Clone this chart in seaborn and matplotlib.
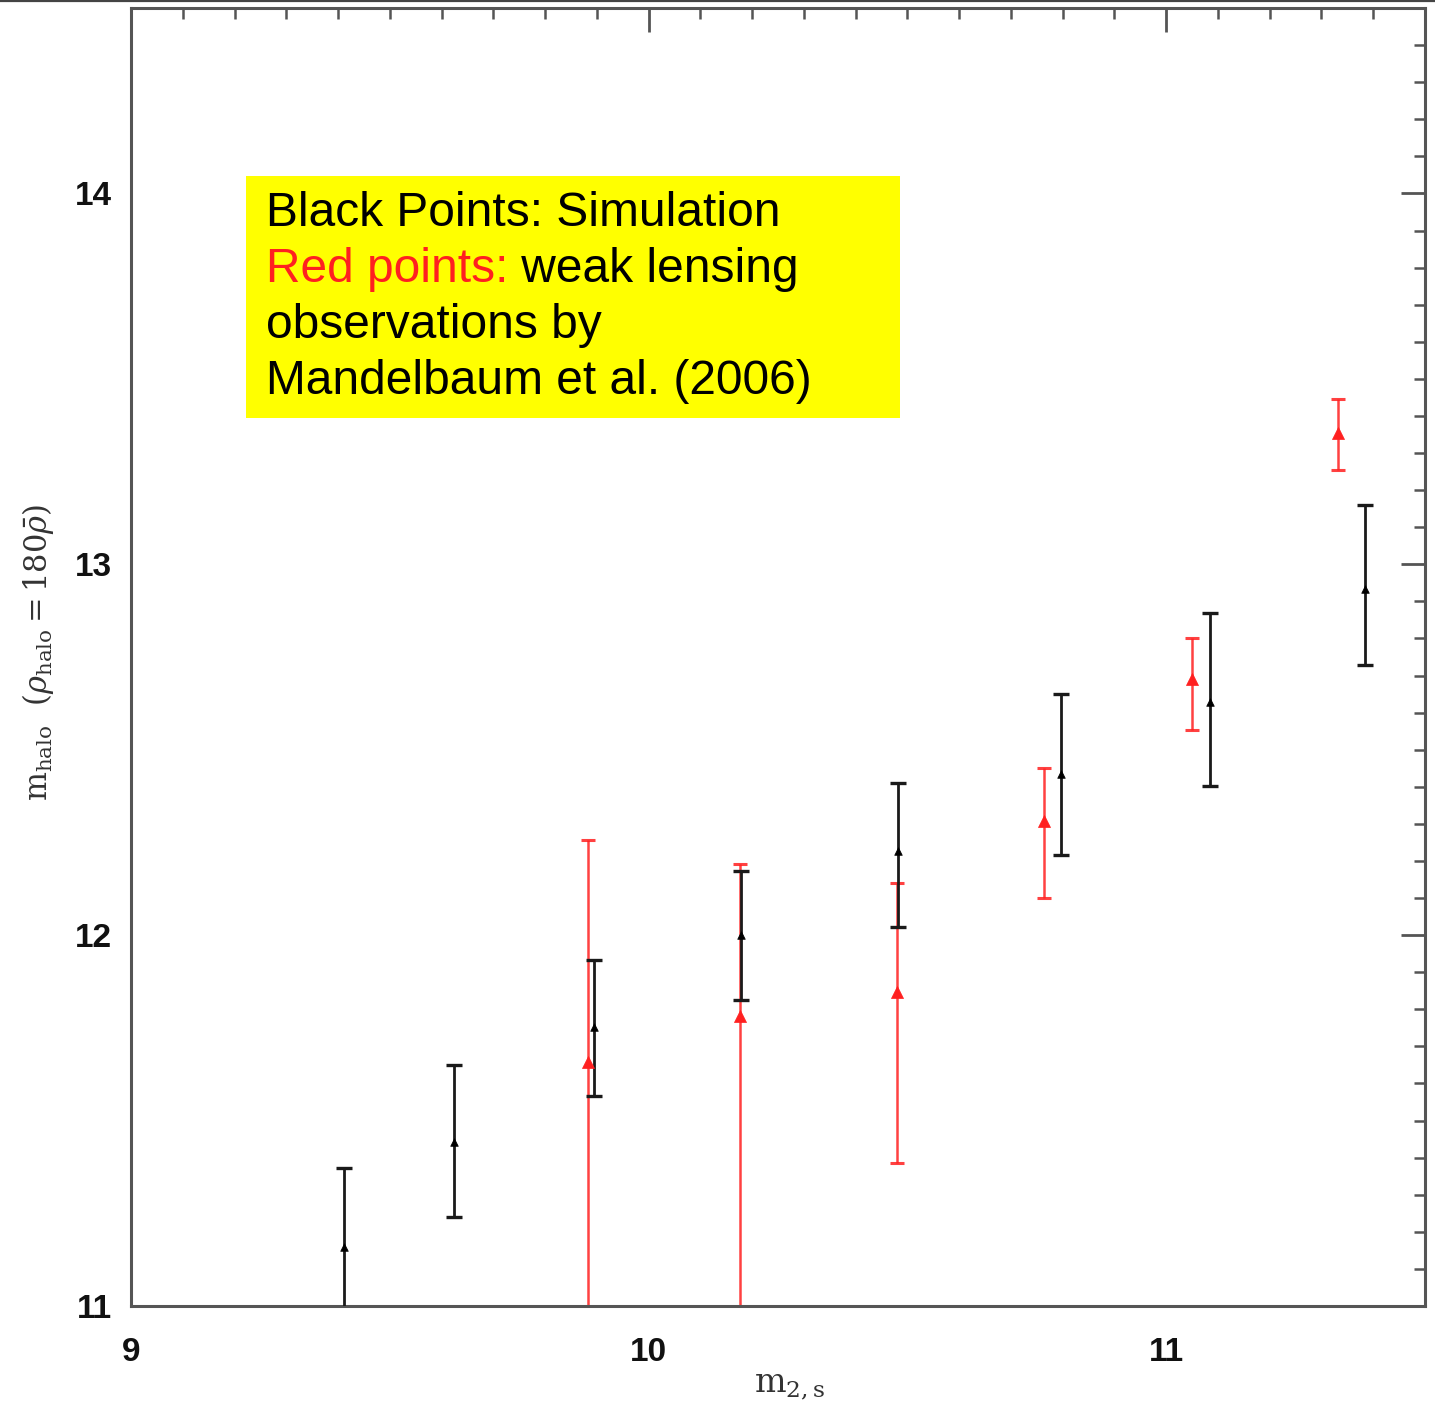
import numpy as np
import pandas as pd
import matplotlib
matplotlib.use("Agg")
import matplotlib.pyplot as plt
import seaborn as sns
from matplotlib.ticker import MultipleLocator
from matplotlib.patches import Rectangle
from matplotlib.lines import Line2D

# --- data ---
sim_x = [9.411, 9.624, 9.894, 10.178, 10.481, 10.797, 11.085, 11.384]
sim_y = [11.159, 11.443, 11.751, 12.000, 12.226, 12.434, 12.628, 12.934]
sim_lo = [10.95, 11.240, 11.567, 11.824, 12.021, 12.215, 12.402, 12.728]
sim_hi = [11.373, 11.651, 11.934, 12.172, 12.410, 12.650, 12.869, 13.160]

obs_x = [9.882, 10.176, 10.479, 10.764, 11.050, 11.332]
obs_y = [11.659, 11.783, 11.848, 12.307, 12.690, 13.355]
obs_lo = [10.80, 10.80, 11.386, 12.099, 12.553, 13.255]
obs_hi = [12.256, 12.191, 12.140, 12.450, 12.801, 13.447]

sim = pd.DataFrame({"x": sim_x, "y": sim_y, "lo": sim_lo, "hi": sim_hi})
obs = pd.DataFrame({"x": obs_x, "y": obs_y, "lo": obs_lo, "hi": obs_hi})

sns.set_style("white")
plt.rcParams['font.family'] = ['Liberation Sans', 'DejaVu Sans']
plt.rcParams['mathtext.fontset'] = 'dejavuserif'

W, H = 1435, 1412
fig = plt.figure(figsize=(W / 100, H / 100), dpi=100)
ax = fig.add_axes([131 / W, 1 - 1306 / H, (1425 - 131) / W, (1306 - 8) / H])

# screenshot frame line at the very top
fig.add_artist(Line2D([0, 1], [1 - 1 / H, 1 - 1 / H], transform=fig.transFigure,
                      color="#444444", linewidth=1.6))

spine_col = "#555555"
red = "#ff2020"

# error bars
ax.errorbar(obs["x"], obs["y"], yerr=[obs["y"] - obs["lo"], obs["hi"] - obs["y"]],
            fmt="none", ecolor=red, elinewidth=1.8, capsize=5, capthick=2.2, alpha=0.85, zorder=2)
ax.errorbar(sim["x"], sim["y"], yerr=[sim["y"] - sim["lo"], sim["hi"] - sim["y"]],
            fmt="none", ecolor="#1a1a1a", elinewidth=2.0, capsize=6, capthick=2.4, zorder=3)

sns.scatterplot(data=obs, x="x", y="y", marker="^", s=75, color=red, edgecolor=red,
                linewidth=0.5, ax=ax, zorder=4)
sns.scatterplot(data=sim, x="x", y="y", marker="^", s=30, color="black", edgecolor="black",
                linewidth=0.5, ax=ax, zorder=5)

ax.set_xlim(9, 11.5)
ax.set_ylim(11, 14.5)
ax.xaxis.set_major_locator(MultipleLocator(1))
ax.xaxis.set_minor_locator(MultipleLocator(0.1))
ax.yaxis.set_major_locator(MultipleLocator(1))
ax.yaxis.set_minor_locator(MultipleLocator(0.1))
ax.tick_params(which="both", direction="in", top=True, right=True, color=spine_col)
ax.tick_params(which="major", length=17, width=2.0, labelsize=24, pad=14, labelcolor="#111111")
ax.tick_params(which="minor", length=8, width=1.8)
ax.tick_params(axis="x", which="major", pad=22)
for lab in ax.get_xticklabels() + ax.get_yticklabels():
    lab.set_fontweight("bold")
for s in ax.spines.values():
    s.set_color(spine_col)
    s.set_linewidth(2.2)

ax.set_xlabel(r"$\mathrm{m_{2,s}}$", fontsize=24, color="#333333")
ax.set_ylabel(r"$\mathrm{m_{halo}}\ \ (\rho_{\mathrm{halo}}=180\bar{\rho})$", fontsize=22,
              color="#333333")
ax.xaxis.set_label_coords((790 - 131) / 1294, (1306 - 1386) / 1298)
ax.yaxis.set_label_coords((38 - 131) / 1294, (1306 - 652) / 1298)
ax.xaxis.label.set_va("center")
ax.yaxis.label.set_va("center")

# annotation box
ax.add_patch(Rectangle(((246 - 131) / (1425 - 131), (1306 - 418) / (1306 - 8)),
                       (900 - 246) / (1425 - 131), (418 - 176) / (1306 - 8),
                       transform=ax.transAxes, facecolor="#ffff00", edgecolor="none", zorder=6))
tx = (266 - 131) / (1425 - 131)
lines_y = [213, 269, 325, 381]
def ty(p):
    return (1306 - p) / (1306 - 8)
fs = 34.5
ax.text(tx, ty(lines_y[0]), "Black Points: Simulation", transform=ax.transAxes, fontsize=fs,
        va="center", ha="left", color="black", zorder=7)
t_red = ax.text(tx, ty(lines_y[1]), "Red points:", transform=ax.transAxes, fontsize=fs,
                va="center", ha="left", color=red, zorder=7)
ax.annotate(" weak lensing", xycoords=t_red, xy=(1, 0.5), fontsize=fs, va="center", ha="left",
            color="black", zorder=7)
ax.text(tx, ty(lines_y[2]), "observations by", transform=ax.transAxes, fontsize=fs,
        va="center", ha="left", color="black", zorder=7)
ax.text(tx, ty(lines_y[3]), "Mandelbaum et al. (2006)", transform=ax.transAxes, fontsize=fs,
        va="center", ha="left", color="black", zorder=7)

fig.savefig("out.png", dpi=100)
